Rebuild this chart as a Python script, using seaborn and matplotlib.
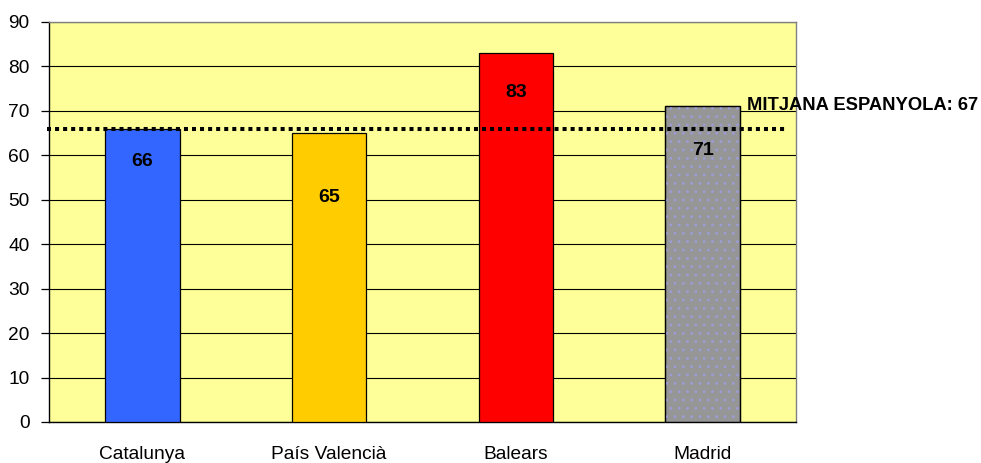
import matplotlib
matplotlib.use("Agg")
import matplotlib.pyplot as plt
import seaborn as sns
import pandas as pd

categories = ["Catalunya", "País Valencià", "Balears", "Madrid"]
values = [66, 65, 83, 71]
bar_colors = ["#3366FF", "#FFCC00", "#FF0000", "#969696"]
label_y = [58.5, 50.5, 74.2, 61.0]
mitjana_line = 66
mitjana_text = "MITJANA ESPANYOLA: 67"
yticks = list(range(0, 91, 10))

df = pd.DataFrame({"cat": categories, "val": values})

sns.set_style("white")
plt.rcParams["font.family"] = ["Liberation Sans", "DejaVu Sans"]
plt.rcParams["text.color"] = "black"
plt.rcParams["xtick.color"] = "black"
plt.rcParams["ytick.color"] = "black"
plt.rcParams["hatch.linewidth"] = 0.8

fig = plt.figure(figsize=(9.81, 4.63), dpi=100)
ax = fig.add_axes([49/981, 41/463, 747/981, 400/463])
ax.set_facecolor("#FFFF99")

sns.barplot(data=df, x="cat", y="val", hue="cat", palette=bar_colors,
            width=0.4, edgecolor="black", linewidth=0.9, legend=False,
            saturation=1, ax=ax, zorder=3)

# dotted pattern on Madrid bar
mad = ax.patches[3]
mx = mad.get_x() + mad.get_width()/2
ax.bar(mx, mad.get_height(), width=mad.get_width(),
       facecolor="none", edgecolor="#9c9cd8", hatch="..", linewidth=0, zorder=3.5)
ax.bar(mx, mad.get_height(), width=mad.get_width(),
       facecolor="none", edgecolor="black", linewidth=0.9, zorder=3.6)

ax.set_ylim(0, 90)
ax.set_xlim(-0.5, 3.5)
ax.set_yticks(yticks)
ax.yaxis.grid(True, color="black", linewidth=0.8, zorder=1)
ax.set_axisbelow(True)

ax.set_xticks(range(len(categories)))
ax.set_xticklabels(categories, fontsize=13.8)
ax.set_xticks([-0.5, 0.5, 1.5, 2.5, 3.5], minor=True)
ax.tick_params(axis="x", which="major", length=0, pad=17)
ax.tick_params(axis="x", which="minor", length=6, width=0.9, color="black", direction="out")
ax.tick_params(axis="y", length=6, width=0.9, color="black", direction="out",
               labelsize=13.8, pad=8, left=True)
ax.set_xlabel("")
ax.set_ylabel("")

for s in ["left", "bottom"]:
    ax.spines[s].set_color("black")
    ax.spines[s].set_linewidth(1.0)
for s in ["top", "right"]:
    ax.spines[s].set_color("#808080")
    ax.spines[s].set_linewidth(1.0)

for i, (v, ly) in enumerate(zip(values, label_y)):
    ax.text(i, ly, str(v), ha="center", va="center", fontsize=14,
            fontweight="bold", color="black", zorder=5)

ax.plot([-0.51, 3.45], [mitjana_line, mitjana_line], color="black",
        linestyle=(0, (1, 1)), linewidth=2.9, dash_capstyle="butt",
        clip_on=False, zorder=4)

ax.text(3.237, 71.1, mitjana_text, ha="left", va="center", fontsize=13.2,
        fontweight="bold", color="black", clip_on=False, zorder=6)

fig.savefig("out.png", dpi=100, facecolor="white")
